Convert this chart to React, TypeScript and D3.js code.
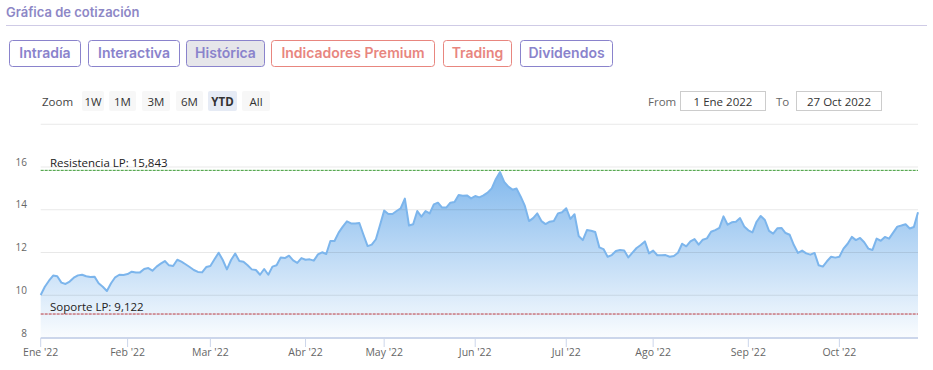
import React from 'react'
import * as d3 from 'd3'

// monthly trading-day closes
const pricesEne = [10.01, 10.4, 10.68, 10.92, 10.89, 10.59, 10.53, 10.64, 10.82, 10.93, 10.96, 10.89, 10.85, 10.87, 10.56, 10.4, 10.2, 10.56, 10.84, 10.96, 10.95]
const pricesFeb = [10.99, 11.1, 11.06, 11.07, 11.23, 11.27, 11.15, 11.34, 11.48, 11.6, 11.4, 11.37, 11.66, 11.57, 11.45, 11.32, 11.18, 11.09, 11.07, 11.32]
const pricesMar = [11.37, 11.68, 11.99, 11.65, 11.21, 11.65, 11.95, 11.6, 11.57, 11.4, 11.21, 11.18, 10.96, 11.23, 10.96, 11.34, 11.4, 11.77, 11.74, 11.85, 11.63, 11.51, 11.74]
const pricesAbr = [11.66, 11.68, 11.62, 11.91, 12.01, 11.93, 12.54, 12.54, 12.93, 13.21, 13.46, 13.36, 13.36, 13.38, 12.83, 12.3, 12.37, 12.62, 13.29]
const pricesMay = [13.96, 13.8, 13.8, 13.94, 14.07, 14.52, 13.26, 13.32, 13.94, 13.68, 13.94, 13.83, 14.25, 14.33, 14.1, 14.1, 14.33, 14.36, 14.69, 14.66, 14.67, 14.53]
const pricesJun = [14.64, 14.58, 14.67, 14.8, 15.0, 15.44, 15.76, 15.3, 15.08, 14.94, 14.99, 14.61, 14.18, 13.47, 13.61, 13.83, 13.47, 13.33, 13.44, 13.47, 13.83, 13.88]
const pricesJul = [14.07, 13.57, 13.79, 12.77, 12.58, 13.05, 13.02, 12.96, 12.24, 12.16, 11.8, 11.88, 12.07, 12.12, 12.09, 11.77, 11.99, 12.21, 12.35, 12.52, 11.96]
const pricesAgo = [12.09, 11.87, 11.87, 11.88, 11.8, 11.84, 11.99, 12.41, 12.29, 12.52, 12.63, 12.37, 12.6, 12.66, 12.97, 13.05, 13.15, 13.69, 13.3, 13.41, 13.44, 13.61, 13.22]
const pricesSep = [13.04, 12.94, 13.44, 13.71, 13.52, 13.01, 12.88, 13.13, 13.15, 12.91, 12.83, 12.35, 11.98, 12.09, 11.96, 11.9, 11.98, 11.4, 11.34, 11.59, 11.8, 11.76]
const pricesOct = [11.8, 12.18, 12.41, 12.73, 12.58, 12.68, 12.48, 12.18, 12.12, 12.65, 12.55, 12.73, 12.65, 12.93, 13.21, 13.26, 13.32, 13.12, 13.19, 13.88]

const monthLabels = ["Ene '22", "Feb '22", "Mar '22", "Abr '22", "May '22", "Jun '22", "Jul '22", "Ago '22", "Sep '22", "Oct '22"]
const yTicks = [8, 10, 12, 14, 16]
const gridValues = [10, 12, 14, 16, 18]
const resistencia = 15.843
const soporte = 9.122

const tabs = ['Intradía', 'Interactiva', 'Histórica', 'Indicadores Premium', 'Trading', 'Dividendos']
const zoomButtons = ['1W', '1M', '3M', '6M', 'YTD', 'All']

const months = [pricesEne, pricesFeb, pricesMar, pricesAbr, pricesMay, pricesJun, pricesJul, pricesAgo, pricesSep, pricesOct]

const App = () => {
	const prices = months.flat()
	const monthStart: number[] = []
	months.reduce((acc, m) => {
		monthStart.push(acc)
		return acc + m.length
	}, 0)

	const plotLeft = 40.7,
		plotRight = 918,
		plotBottom = 338,
		plotTop = 124.25

	const x = d3.scaleLinear().domain([0, prices.length - 1]).range([plotLeft, plotRight])
	const y = d3.scaleLinear().domain([8, 18]).range([plotBottom, plotTop])

	const area = d3
		.area<number>()
		.x((d, i) => x(i))
		.y0(y(8))
		.y1((d) => y(d))
	const line = d3
		.line<number>()
		.x((d, i) => x(i))
		.y((d) => y(d))

	const purple = '#8a83cc'
	const salmon = '#e8867f'
	const tabX = [9, 88, 186, 271, 443, 520]
	const tabW = [71, 91, 78, 163, 68, 92]
	const tabColor = [purple, purple, purple, salmon, salmon, purple]

	const zoomX = [82, 109, 142, 176, 208, 242]
	const zoomW = [22, 27, 28, 27, 29, 28]

	const uiFont = 'Inter, sans-serif'
	const chartFont = '"Open Sans", sans-serif'

	return (
		<svg width={933} height={370} style={{ position: 'absolute', left: 0, top: 0 }}>
			<defs>
				<linearGradient id="areaFill" x1="0" y1="0" x2="0" y2="1">
					<stop offset="0" stopColor="#7cb5ec" stopOpacity={0.95} />
					<stop offset="1" stopColor="#7cb5ec" stopOpacity={0.04} />
				</linearGradient>
			</defs>
			<rect width={933} height={370} fill="#fff" />

			{/* header */}
			<text x={6} y={17} fontFamily={uiFont} fontWeight={600} fontSize={13} fill="#8d87c6">
				Gráfica de cotización
			</text>
			<line x1={6} x2={927} y1={25.5} y2={25.5} stroke="#cfcbe6" />

			{tabs.map((t, i) => (
				<g key={t}>
					<rect
						x={tabX[i] + 0.5}
						y={40.5}
						width={tabW[i]}
						height={26}
						rx={3}
						fill={i === 2 ? '#e6e6ea' : '#fff'}
						stroke={tabColor[i]}
					/>
					<text
						x={tabX[i] + tabW[i] / 2 + 0.5}
						y={58}
						textAnchor="middle"
						fontFamily={uiFont}
						fontWeight={600}
						fontSize={14}
						fill={tabColor[i]}
					>
						{t}
					</text>
				</g>
			))}

			{/* range selector */}
			<text x={42} y={106} fontFamily={chartFont} fontSize={11.5} fill="#444">
				Zoom
			</text>
			{zoomButtons.map((b, i) => (
				<g key={b}>
					<rect x={zoomX[i]} y={91} width={zoomW[i]} height={20} rx={2} fill={b === 'YTD' ? '#e6ebf5' : '#f7f7f7'} />
					<text
						x={zoomX[i] + zoomW[i] / 2}
						y={105.5}
						textAnchor="middle"
						fontFamily={chartFont}
						fontSize={11.5}
						fontWeight={b === 'YTD' ? 700 : 400}
						fill="#333"
					>
						{b}
					</text>
				</g>
			))}
			<text x={648} y={106} fontFamily={chartFont} fontSize={11.5} fill="#666">
				From
			</text>
			<rect x={680.5} y={91.5} width={85} height={19} fill="#fff" stroke="#ccc" />
			<text x={723} y={106} textAnchor="middle" fontFamily={chartFont} fontSize={11.5} fill="#333">
				1 Ene 2022
			</text>
			<text x={776} y={106} fontFamily={chartFont} fontSize={11.5} fill="#666">
				To
			</text>
			<rect x={796.5} y={91.5} width={85} height={19} fill="#fff" stroke="#ccc" />
			<text x={839} y={106} textAnchor="middle" fontFamily={chartFont} fontSize={11.5} fill="#333">
				27 Oct 2022
			</text>

			{/* series */}
			<path d={area(prices) ?? ''} fill="url(#areaFill)" />
			{gridValues.map((v) => (
				<line key={v} x1={plotLeft} x2={plotRight} y1={y(v)} y2={y(v)} stroke="#000" strokeOpacity={0.09} />
			))}
			<path d={line(prices) ?? ''} fill="none" stroke="#7cb5ec" strokeWidth={2} strokeLinejoin="round" />

			{/* plot lines */}
			<line x1={plotLeft} x2={plotRight} y1={y(resistencia)} y2={y(resistencia)} stroke="#3c9a34" strokeDasharray="3,1" />
			<text x={50} y={y(resistencia) - 3} fontFamily={chartFont} fontSize={11.5} fill="#222">
				Resistencia LP: 15,843
			</text>
			<line x1={plotLeft} x2={plotRight} y1={y(soporte)} y2={y(soporte)} stroke="#b8383f" strokeDasharray="3,1" />
			<text x={50} y={y(soporte) - 3} fontFamily={chartFont} fontSize={11.5} fill="#222">
				Soporte LP: 9,122
			</text>

			{/* axes */}
			{yTicks.map((v) => (
				<text key={v} x={27} y={y(v) - 1.5} textAnchor="end" fontFamily={chartFont} fontSize={10} fill="#666">
					{v}
				</text>
			))}
			<line x1={plotLeft} x2={plotRight} y1={plotBottom} y2={plotBottom} stroke="#ccd6eb" strokeWidth={2} />
			{monthStart.map((s, i) => (
				<g key={i}>
					<line x1={x(s)} x2={x(s)} y1={plotBottom} y2={plotBottom + 9} stroke="#ccd6eb" />
					<text x={x(s)} y={356} textAnchor="middle" fontFamily={chartFont} fontSize={10.5} fill="#666">
						{monthLabels[i]}
					</text>
				</g>
			))}
		</svg>
	)
}

export default App
